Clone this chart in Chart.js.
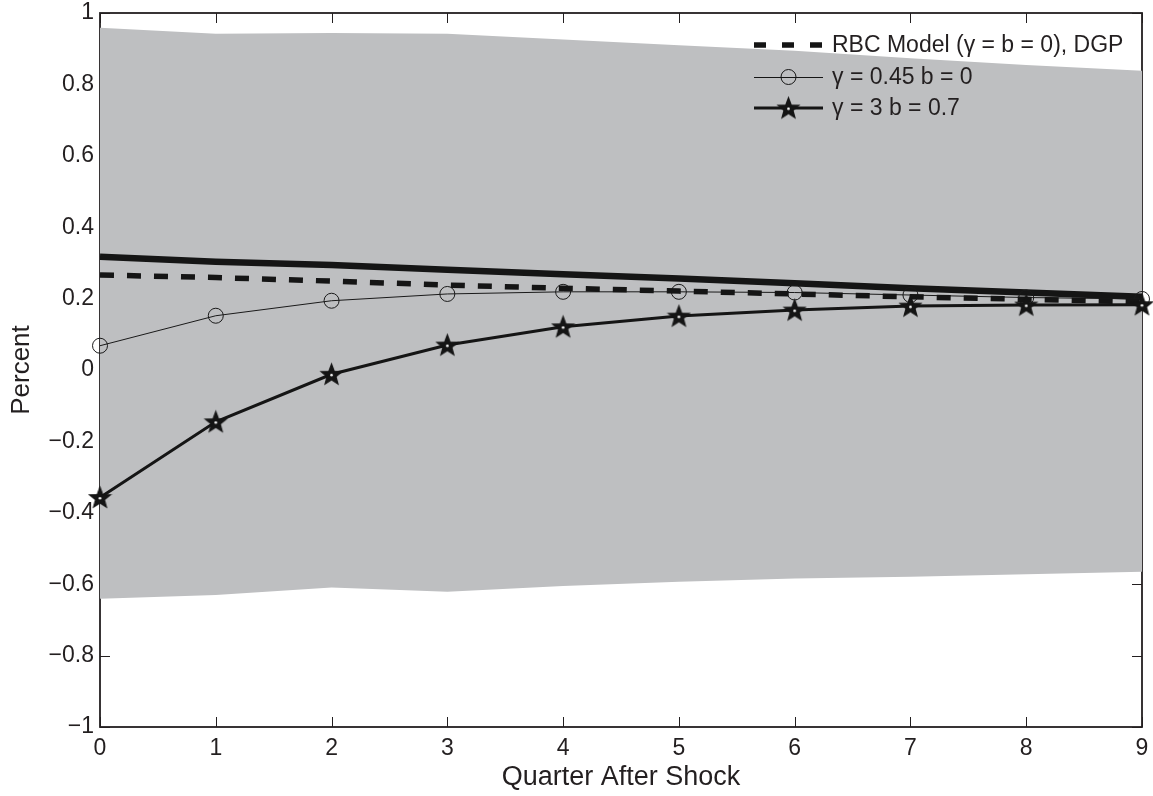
<!DOCTYPE html>
<html><head><meta charset="utf-8">
<script src="https://cdn.jsdelivr.net/npm/chart.js@4.4.1/dist/chart.umd.min.js"></script>
<style>html,body{margin:0;padding:0;background:#fff;overflow:hidden;} #wrap{width:1153px;height:796px;overflow:hidden;} #c{display:block;margin-top:-2px;}</style>
</head><body><div id="wrap"><canvas id="c" width="1157" height="798"></canvas></div>
<script>
const quarters = [0, 1, 2, 3, 4, 5, 6, 7, 8, 9];
const bandUpper = [0.959, 0.942, 0.944, 0.942, 0.926, 0.910, 0.894, 0.873, 0.854, 0.838];
const bandLower = [-0.641, -0.630, -0.609, -0.621, -0.605, -0.593, -0.584, -0.579, -0.572, -0.565];
const rbcDgp = [0.266, 0.259, 0.249, 0.238, 0.229, 0.221, 0.213, 0.205, 0.198, 0.191];
const rbcThick = [0.317, 0.303, 0.294, 0.281, 0.268, 0.256, 0.243, 0.229, 0.217, 0.205];
const gamma045 = [0.068, 0.152, 0.194, 0.213, 0.219, 0.219, 0.217, 0.210, 0.203, 0.199];
const gamma3 = [-0.357, -0.145, -0.012, 0.070, 0.121, 0.151, 0.168, 0.179, 0.182, 0.183];
const xTicks = [0, 1, 2, 3, 4, 5, 6, 7, 8, 9];
const yTicks = [-1, -0.8, -0.6, -0.4, -0.2, 0, 0.2, 0.4, 0.6, 0.8, 1];
const legendLabels = ['RBC Model (\u03b3 = b = 0), DGP', '\u03b3 = 0.45 b = 0', '\u03b3 = 3 b = 0.7'];
const xTitle = 'Quarter After Shock';
const yTitle = 'Percent';

const INK = '#231f20';
const FONT = '"Liberation Sans", Arial, Helvetica, sans-serif';

function pts(ys) { return quarters.map((q, i) => ({ x: q, y: ys[i] })); }

function makeStar(size) {
  const c = document.createElement('canvas');
  c.width = c.height = size;
  const g = c.getContext('2d');
  const cx = size / 2, cy = size / 2 + 0.8;
  const R = size / 2 - 1.5, r = R * 0.42;
  g.beginPath();
  for (let k = 0; k < 10; k++) {
    const a = -Math.PI / 2 + k * Math.PI / 5;
    const rr = k % 2 ? r : R;
    g.lineTo(cx + rr * Math.cos(a), cy + rr * Math.sin(a));
  }
  g.closePath();
  g.fillStyle = '#151515'; g.fill();
  g.lineWidth = 1.2; g.strokeStyle = '#151515'; g.stroke();
  g.beginPath(); g.arc(cx, cy, 1.3, 0, Math.PI * 2); g.fillStyle = '#fff'; g.fill();
  return c;
}
const starImg = makeStar(25);

function fmt(v) {
  const s = String(Number(v.toFixed(1)));
  return s.replace('-', '\u2212');
}

const framePlugin = {
  id: 'frame',
  beforeDatasetsDraw(chart) {
    const { ctx, chartArea: a, scales: { x, y } } = chart;
    ctx.save();
    ctx.strokeStyle = INK;
    ctx.lineWidth = 1.8;
    ctx.strokeRect(a.left, a.top, a.right - a.left, a.bottom - a.top);
    ctx.lineWidth = 1;
    const L = 10;
    ctx.beginPath();
    xTicks.forEach(v => {
      const p = Math.round(x.getPixelForValue(v)) + 0.5;
      ctx.moveTo(p, a.bottom); ctx.lineTo(p, a.bottom - L);
      ctx.moveTo(p, a.top); ctx.lineTo(p, a.top + L);
    });
    yTicks.forEach(v => {
      const p = Math.round(y.getPixelForValue(v)) + 0.5;
      ctx.moveTo(a.left, p); ctx.lineTo(a.left + L, p);
      ctx.moveTo(a.right, p); ctx.lineTo(a.right - L, p);
    });
    ctx.stroke();
    ctx.restore();
  }
};

const legendPlugin = {
  id: 'customLegend',
  afterDatasetsDraw(chart) {
    const { ctx, chartArea: a } = chart;
    const x0 = a.right - 388, x1 = a.right - 319, tx = a.right - 310;
    const rows = [a.top + 32, a.top + 64, a.top + 95];
    const mid = (x0 + x1) / 2;
    ctx.save();
    ctx.strokeStyle = '#151515';
    ctx.lineWidth = 5.5; ctx.lineCap = 'butt';
    ctx.setLineDash([12, 16]);
    ctx.beginPath(); ctx.moveTo(x0, rows[0]); ctx.lineTo(x1, rows[0]); ctx.stroke();
    ctx.setLineDash([]);
    ctx.lineWidth = 1;
    ctx.beginPath(); ctx.moveTo(x0, rows[1] + 0.5); ctx.lineTo(x1, rows[1] + 0.5); ctx.stroke();
    ctx.beginPath(); ctx.arc(mid, rows[1], 7.5, 0, Math.PI * 2); ctx.stroke();
    ctx.lineWidth = 3;
    ctx.beginPath(); ctx.moveTo(x0, rows[2]); ctx.lineTo(x1, rows[2]); ctx.stroke();
    ctx.drawImage(starImg, mid - starImg.width / 2, rows[2] - starImg.height / 2);
    ctx.fillStyle = INK;
    ctx.font = '23px ' + FONT;
    ctx.textBaseline = 'middle';
    ctx.textAlign = 'left';
    legendLabels.forEach((t, i) => ctx.fillText(t, tx, rows[i] + 1));
    ctx.restore();
  }
};

new Chart(document.getElementById('c'), {
  type: 'line',
  data: {
    datasets: [
      { label: legendLabels[2], data: pts(gamma3), order: 1, borderColor: '#151515', borderWidth: 3,
        pointStyle: starImg, pointRadius: 12, tension: 0, clip: false, fill: false },
      { label: legendLabels[0], data: pts(rbcDgp), order: 2, borderColor: '#151515', borderWidth: 5.5,
        borderDash: [14, 13], borderCapStyle: 'butt', pointRadius: 0, tension: 0, fill: false },
      { label: legendLabels[1], data: pts(gamma045), order: 3, borderColor: '#1a1a1a', borderWidth: 1,
        pointStyle: 'circle', pointRadius: 7.5, pointBorderWidth: 1, pointBorderColor: '#1a1a1a',
        pointBackgroundColor: 'rgba(0,0,0,0)', tension: 0, clip: false, fill: false },
      { label: '', data: pts(rbcThick), order: 4, borderColor: '#151515', borderWidth: 6.5,
        pointRadius: 0, tension: 0, fill: false },
      { label: 'upper', data: pts(bandUpper), order: 9, borderWidth: 0, borderColor: 'rgba(0,0,0,0)',
        backgroundColor: '#bebfc1', pointRadius: 0, tension: 0, fill: '+1' },
      { label: 'lower', data: pts(bandLower), order: 10, borderWidth: 0, borderColor: 'rgba(0,0,0,0)',
        backgroundColor: '#bebfc1', pointRadius: 0, tension: 0, fill: false }
    ]
  },
  options: {
    responsive: false,
    animation: false,
    events: [],
    layout: { padding: { top: 13, right: 11, left: 0, bottom: 0 } },
    plugins: { legend: { display: false }, tooltip: { enabled: false } },
    scales: {
      x: {
        type: 'linear', min: 0, max: 9,
        afterBuildTicks(s) { s.ticks = xTicks.map(v => ({ value: v })); },
        ticks: { color: INK, font: { family: FONT, size: 23 }, padding: 8, maxRotation: 0, autoSkip: false },
        grid: { display: false, drawTicks: false },
        border: { display: false },
        title: { display: true, text: xTitle, color: INK, font: { family: FONT, size: 27 }, padding: { top: 0, bottom: 2 } },
        afterFit(s) { s.height = 69; s.paddingLeft = 0; s.paddingRight = 0; }
      },
      y: {
        type: 'linear', min: -1, max: 1,
        afterBuildTicks(s) { s.ticks = yTicks.map(v => ({ value: v })); },
        ticks: { color: INK, font: { family: FONT, size: 23 }, padding: 6, callback: v => fmt(v), autoSkip: false },
        grid: { display: false, drawTicks: false },
        border: { display: false },
        title: { display: true, text: yTitle, color: INK, font: { family: FONT, size: 26 }, padding: { top: 6, bottom: 0 } },
        afterFit(s) { s.width = 100; s.paddingTop = 0; s.paddingBottom = 0; }
      }
    }
  },
  plugins: [framePlugin, legendPlugin]
});
</script>
</body></html>
